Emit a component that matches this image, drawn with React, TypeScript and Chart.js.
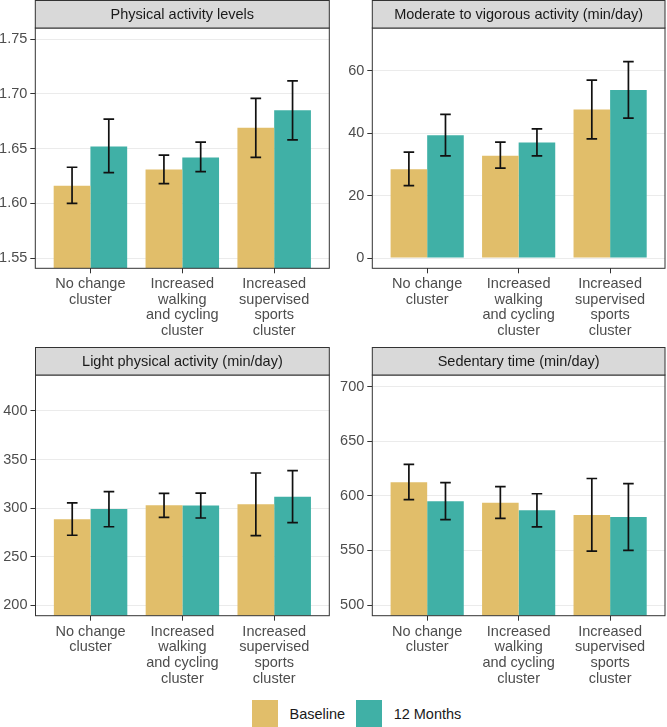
import React, { useEffect, useRef } from 'react';
import { Chart, registerables } from 'chart.js';

Chart.register(...registerables);

// ---------- data ----------
const categories: string[][] = [
  ['No change', 'cluster'],
  ['Increased', 'walking', 'and cycling', 'cluster'],
  ['Increased', 'supervised', 'sports', 'cluster'],
];
const seriesNames = ['Baseline', '12 Months'];
const seriesColors = ['#E1BE6A', '#40B0A6'];

// Physical activity levels
const paTitle = 'Physical activity levels';
const paBaseline = [1.616, 1.631, 1.669];
const paBaselineLo = [1.6, 1.618, 1.642];
const paBaselineHi = [1.633, 1.644, 1.696];
const paMonths = [1.652, 1.642, 1.685];
const paMonthsLo = [1.628, 1.629, 1.658];
const paMonthsHi = [1.677, 1.656, 1.712];
const paTicks = [1.55, 1.6, 1.65, 1.7, 1.75];
const paTickLabels = ['1.55', '1.60', '1.65', '1.70', '1.75'];
const paRange = [1.5406, 1.7603];

// Moderate to vigorous activity
const mvTitle = 'Moderate to vigorous activity (min/day)';
const mvBaseline = [28.4, 32.8, 47.6];
const mvBaselineLo = [23.2, 28.8, 38.2];
const mvBaselineHi = [33.9, 37.1, 57.0];
const mvMonths = [39.3, 37.0, 53.8];
const mvMonthsLo = [32.7, 32.7, 44.8];
const mvMonthsHi = [46.0, 41.4, 62.9];
const mvTicks = [0, 20, 40, 60];
const mvTickLabels = ['0', '20', '40', '60'];
const mvRange = [-3.3, 73.7];

// Light physical activity
const lpTitle = 'Light physical activity (min/day)';
const lpBaseline = [288.4, 302.8, 303.8];
const lpBaselineLo = [271.9, 290.4, 271.5];
const lpBaselineHi = [305.2, 315.1, 336.1];
const lpMonths = [299.0, 302.5, 311.7];
const lpMonthsLo = [280.7, 289.7, 284.9];
const lpMonthsHi = [316.8, 315.4, 338.5];
const lpTicks = [200, 250, 300, 350, 400];
const lpTickLabels = ['200', '250', '300', '350', '400'];
const lpRange = [189, 437.1];

// Sedentary time
const sdTitle = 'Sedentary time (min/day)';
const sdBaseline = [612.4, 593.7, 582.5];
const sdBaselineLo = [596.5, 579.3, 549.4];
const sdBaselineHi = [628.9, 608.4, 615.9];
const sdMonths = [595.1, 586.7, 580.7];
const sdMonthsLo = [578.2, 571.6, 550.0];
const sdMonthsHi = [612.1, 601.9, 611.1];
const sdTicks = [500, 550, 600, 650, 700];
const sdTickLabels = ['500', '550', '600', '650', '700'];
const sdRange = [490.2, 710.7];

// ---------- styling ----------
const FONT = "'Liberation Sans', Arial, Helvetica, sans-serif";
const FS = 14.5;

type Spec = {
  title: string;
  base: number[]; baseLo: number[]; baseHi: number[];
  months: number[]; monthsLo: number[]; monthsHi: number[];
  ticks: number[]; tickLabels: string[]; range: number[];
};

type Layout = { left: number; top: number; w: number; h: number; yW: number; xH: number; padR: number };

const stripPlugin = (title: string) => ({
  id: 'strip',
  afterDraw(chart: any) {
    const { ctx, chartArea } = chart;
    const { left, right, top, bottom } = chartArea;
    ctx.save();
    // panel border
    ctx.strokeStyle = '#333333';
    ctx.lineWidth = 1;
    ctx.strokeRect(left, top, right - left, bottom - top);
    // strip
    const sh = 27.5;
    ctx.fillStyle = '#D9D9D9';
    ctx.fillRect(left, top - sh, right - left, sh);
    ctx.strokeRect(left, top - sh, right - left, sh);
    ctx.fillStyle = '#1A1A1A';
    ctx.font = `${FS}px ${FONT}`;
    ctx.textAlign = 'center';
    ctx.textBaseline = 'middle';
    ctx.fillText(title, (left + right) / 2, top - sh / 2 + 0.5);
    ctx.restore();
  },
});

const errorBarPlugin = {
  id: 'errorbars',
  afterDatasetsDraw(chart: any) {
    const { ctx } = chart;
    const xs = chart.scales.x;
    const ys = chart.scales.y;
    const half = xs.getPixelForValue(0.058) - xs.getPixelForValue(0);
    ctx.save();
    ctx.strokeStyle = '#111111';
    ctx.lineWidth = 1.7;
    chart.data.datasets.forEach((ds: any, di: number) => {
      const meta = chart.getDatasetMeta(di);
      meta.data.forEach((el: any, i: number) => {
        const x = el.x;
        const yl = ys.getPixelForValue(ds.errLo[i]);
        const yh = ys.getPixelForValue(ds.errHi[i]);
        ctx.beginPath();
        ctx.moveTo(x, yl);
        ctx.lineTo(x, yh);
        ctx.moveTo(x - half, yl);
        ctx.lineTo(x + half, yl);
        ctx.moveTo(x - half, yh);
        ctx.lineTo(x + half, yh);
        ctx.stroke();
      });
    });
    ctx.restore();
  },
};

function makeConfig(s: Spec, L: Layout): any {
  const baseVal = s.range[0] > 0 ? s.range[0] : 0;
  const mk = (vals: number[], lo: number[], hi: number[], idx: number) => ({
    label: seriesNames[idx],
    data: vals.map((v, i) => ({ x: i, y: v })),
    errLo: lo,
    errHi: hi,
    backgroundColor: seriesColors[idx],
    borderWidth: 0,
    barPercentage: 1,
    categoryPercentage: 0.8,
    base: baseVal,
  });
  return {
    type: 'bar',
    data: {
      datasets: [
        mk(s.base, s.baseLo, s.baseHi, 0),
        mk(s.months, s.monthsLo, s.monthsHi, 1),
      ],
    },
    options: {
      responsive: false,
      animation: false,
      events: [],
      layout: { padding: { top: 28, right: L.padR, left: 0, bottom: 0 } },
      plugins: { legend: { display: false }, tooltip: { enabled: false }, title: { display: false } },
      scales: {
        x: {
          type: 'linear',
          min: -0.6,
          max: 2.6,
          offset: false,
          bounds: 'data',
          afterBuildTicks: (ax: any) => {
            ax.ticks = categories.map((_, i) => ({ value: i }));
          },
          afterFit: (ax: any) => {
            ax.height = L.xH;
          },
          grid: {
            display: true,
            drawOnChartArea: false,
            drawTicks: true,
            tickLength: 5,
            tickColor: '#333333',
            tickWidth: 1,
            offset: false,
          },
          border: { display: false },
          ticks: {
            color: '#4D4D4D',
            font: { family: FONT, size: FS, lineHeight: 1.08 },
            padding: 3,
            maxRotation: 0,
            minRotation: 0,
            autoSkip: false,
            callback: (v: number) => categories[Math.round(v)],
          },
        },
        y: {
          type: 'linear',
          min: s.range[0],
          max: s.range[1],
          bounds: 'data',
          afterBuildTicks: (ax: any) => {
            ax.ticks = s.ticks.map((v) => ({ value: v }));
          },
          afterFit: (ax: any) => {
            ax.width = L.yW;
          },
          grid: {
            color: '#EBEBEB',
            lineWidth: 1,
            drawTicks: true,
            tickLength: 5,
            tickColor: '#333333',
            tickWidth: 1,
          },
          border: { display: false },
          ticks: {
            color: '#4D4D4D',
            font: { family: FONT, size: FS },
            padding: 3,
            autoSkip: false,
            callback: (_v: number, i: number) => s.tickLabels[i],
          },
        },
      },
    },
    plugins: [errorBarPlugin, stripPlugin(s.title)],
  };
}

const specs: Spec[] = [
  { title: paTitle, base: paBaseline, baseLo: paBaselineLo, baseHi: paBaselineHi, months: paMonths, monthsLo: paMonthsLo, monthsHi: paMonthsHi, ticks: paTicks, tickLabels: paTickLabels, range: paRange },
  { title: mvTitle, base: mvBaseline, baseLo: mvBaselineLo, baseHi: mvBaselineHi, months: mvMonths, monthsLo: mvMonthsLo, monthsHi: mvMonthsHi, ticks: mvTicks, tickLabels: mvTickLabels, range: mvRange },
  { title: lpTitle, base: lpBaseline, baseLo: lpBaselineLo, baseHi: lpBaselineHi, months: lpMonths, monthsLo: lpMonthsLo, monthsHi: lpMonthsHi, ticks: lpTicks, tickLabels: lpTickLabels, range: lpRange },
  { title: sdTitle, base: sdBaseline, baseLo: sdBaselineLo, baseHi: sdBaselineHi, months: sdMonths, monthsLo: sdMonthsLo, monthsHi: sdMonthsHi, ticks: sdTicks, tickLabels: sdTickLabels, range: sdRange },
];

const layouts: Layout[] = [
  { left: 0, top: 0, w: 333, h: 347, yW: 35.3, xH: 78.7, padR: 3.7 },
  { left: 333, top: 0, w: 334, h: 347, yW: 39.3, xH: 78.7, padR: 2 },
  { left: 0, top: 347, w: 333, h: 343, yW: 35.5, xH: 74.3, padR: 3.7 },
  { left: 333, top: 347, w: 334, h: 343, yW: 39.3, xH: 74.3, padR: 2 },
];

function Panel({ spec, layout }: { spec: Spec; layout: Layout }) {
  const ref = useRef<HTMLCanvasElement>(null);
  useEffect(() => {
    const chart = new Chart(ref.current as HTMLCanvasElement, makeConfig(spec, layout));
    return () => chart.destroy();
  }, []);
  return (
    <canvas
      ref={ref}
      width={layout.w}
      height={layout.h}
      style={{ position: 'absolute', left: layout.left, top: layout.top, width: layout.w, height: layout.h }}
    />
  );
}

export default function App() {
  return (
    <div
      style={{
        position: 'absolute',
        left: 0,
        top: 0,
        width: 667,
        height: 727,
        background: '#FFFFFF',
        overflow: 'hidden',
      }}
    >
      {specs.map((s, i) => (
        <Panel key={i} spec={s} layout={layouts[i]} />
      ))}
      <div
        style={{
          position: 'absolute',
          left: 252,
          top: 700,
          height: 27,
          display: 'flex',
          alignItems: 'center',
          fontFamily: FONT,
          fontSize: FS,
          color: '#1A1A1A',
        }}
      >
        {seriesNames.map((n, i) => (
          <React.Fragment key={n}>
            <span style={{ display: 'inline-block', width: 26, height: 27, background: seriesColors[i] }} />
            <span style={{ marginLeft: 11.5, marginRight: 11 }}>{n}</span>
          </React.Fragment>
        ))}
      </div>
    </div>
  );
}
